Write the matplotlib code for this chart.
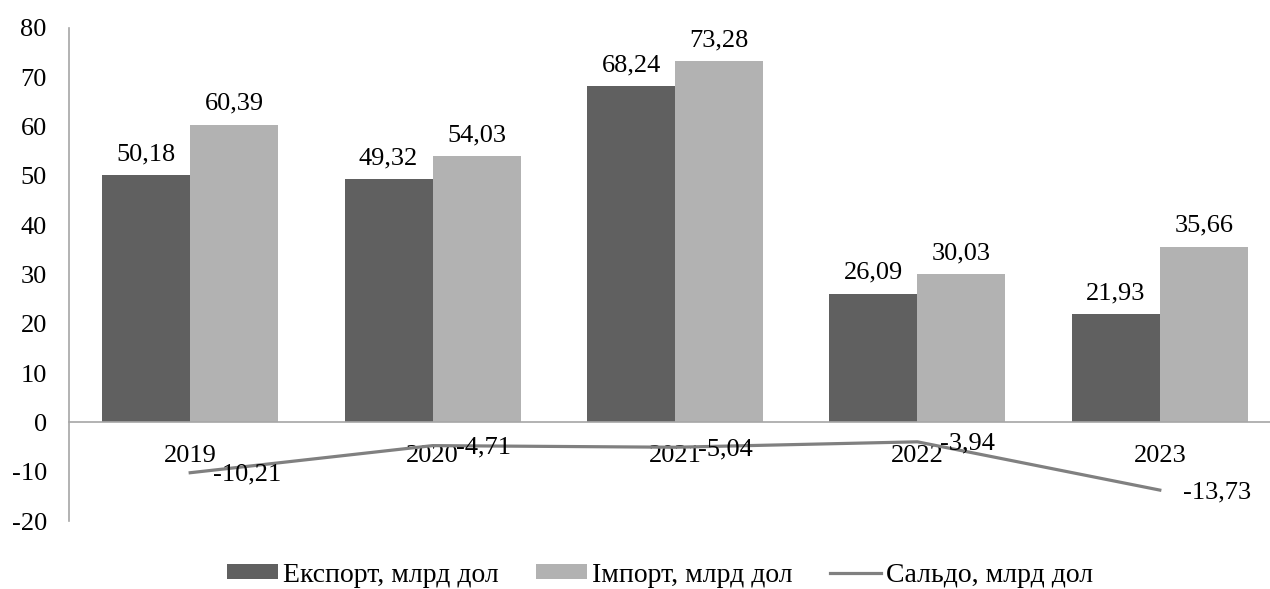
import matplotlib
matplotlib.use("Agg")
import matplotlib.pyplot as plt
import numpy as np

years = ['2019', '2020', '2021', '2022', '2023']
export = [50.18, 49.32, 68.24, 26.09, 21.93]
imports = [60.39, 54.03, 73.28, 30.03, 35.66]
saldo = [-10.21, -4.71, -5.04, -3.94, -13.73]

plt.rcParams['font.family'] = ['Liberation Serif', 'DejaVu Serif']
plt.rcParams['axes.unicode_minus'] = False

fig = plt.figure(figsize=(12.7, 5.89), dpi=100)
ax = fig.add_axes([69 / 1270, 1 - 521 / 589, 1212 / 1270, 493 / 589])

X = np.arange(len(years))
w = 0.363
b1 = ax.bar(X - w / 2, export, w, color='#606060', label='Експорт, млрд дол')
b2 = ax.bar(X + w / 2, imports, w, color='#b2b2b2', label='Імпорт, млрд дол')
l1, = ax.plot(X, saldo, color='#808080', lw=2.3, label='Сальдо, млрд дол')

def fmt(v):
    return ('%.2f' % v).replace('.', ',')

fs = 19
for i in range(len(years)):
    ax.annotate(fmt(export[i]), (X[i] - w / 2, export[i]), xytext=(0, 10),
                textcoords='offset pixels', ha='center', va='bottom', fontsize=fs)
    ax.annotate(fmt(imports[i]), (X[i] + w / 2, imports[i]), xytext=(0, 10),
                textcoords='offset pixels', ha='center', va='bottom', fontsize=fs)
    ax.annotate(fmt(saldo[i]), (X[i], saldo[i]), xytext=(23, -2),
                textcoords='offset pixels', ha='left', va='center', fontsize=fs)

ax.set_xlim(-0.5, 4.5)
ax.set_ylim(-20, 80)
ax.set_yticks(range(-20, 81, 10))
ax.set_xticks(X)
ax.set_xticklabels(years)

for s in ['top', 'right']:
    ax.spines[s].set_visible(False)
ax.spines['bottom'].set_position(('data', 0))
ax.spines['bottom'].set_color('#a6a6a6')
ax.spines['bottom'].set_linewidth(1.2)
ax.spines['left'].set_color('#a6a6a6')
ax.spines['left'].set_linewidth(1.2)
ax.tick_params(axis='both', length=0, labelsize=fs)
ax.tick_params(axis='x', pad=16)
ax.tick_params(axis='y', pad=16)

ax.legend([b1, b2, l1], [b1.get_label(), b2.get_label(), l1.get_label()],
          loc='center', bbox_to_anchor=(660 / 1270, 1 - 575 / 589), bbox_transform=fig.transFigure,
          ncol=3, frameon=False, fontsize=20, handlelength=1.84, handletextpad=0.18,
          columnspacing=1.33, handleheight=0.45, borderpad=0)

plt.savefig('out.png', dpi=100)
